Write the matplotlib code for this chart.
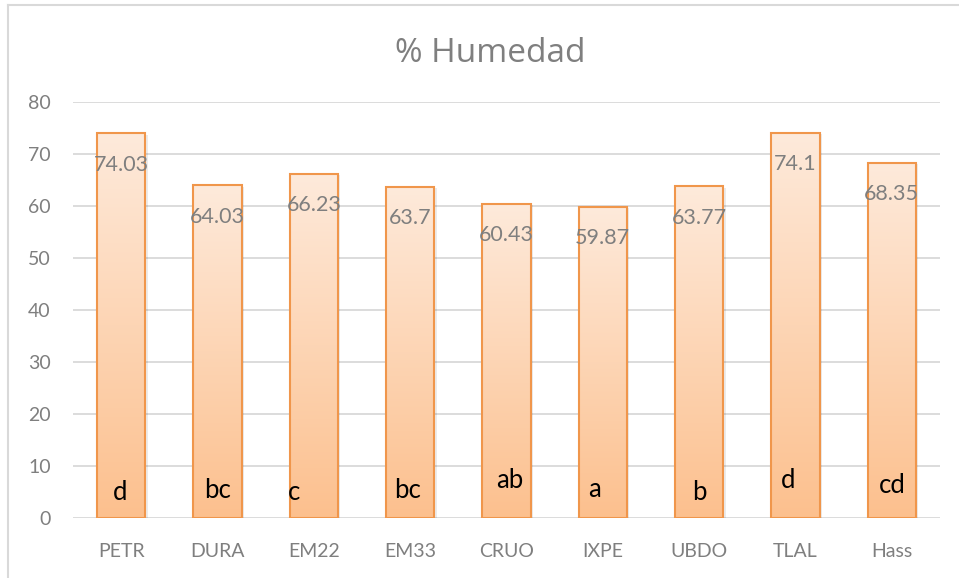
import numpy as np
import matplotlib
matplotlib.use('Agg')
import matplotlib.pyplot as plt
from matplotlib.lines import Line2D

plt.rcParams['font.family'] = ['Lato', 'DejaVu Sans']

# Datos
categorias = ['PETR', 'DURA', 'EM22', 'EM33', 'CRUO', 'IXPE', 'UBDO', 'TLAL', 'Hass']
humedad = [74.03, 64.03, 66.23, 63.7, 60.43, 59.87, 63.77, 74.1, 68.35]
letras = ['d', 'bc', 'c', 'bc', 'ab', 'a', 'b', 'd', 'cd']

# posicion manual de las letras (desplazamiento x, linea base y)
letras_dx = [-0.01, 0.0, -0.21, -0.03, 0.03, -0.09, 0.0, -0.08, 0.0]
letras_y = [3.46, 3.85, 3.46, 3.85, 5.77, 4.04, 3.46, 5.77, 4.8]

gris = '#7F7F7F'
borde = '#F0964B'
arriba = np.array([254, 234, 219]) / 255
abajo = np.array([252, 192, 142]) / 255

fig = plt.figure(figsize=(9.59, 5.78), dpi=100)
ax = fig.add_axes([73 / 959, 60 / 578, 867 / 959, 416 / 578])

x = np.arange(len(categorias))
t = np.linspace(0, 1, 256)[:, None, None]
grad = arriba * (1 - t) + abajo * t

for xi, v in zip(x, humedad):
    # sombra suave
    ax.bar(xi + 0.025, v - 0.3, width=0.5, bottom=0, color='#000000', alpha=0.08, zorder=2)
    ax.imshow(grad, extent=[xi - 0.25, xi + 0.25, 0, v], aspect='auto',
              origin='upper', zorder=3)

ax.bar(x, humedad, width=0.5, facecolor='none', edgecolor=borde, linewidth=1.5, zorder=4)

for xi, v in zip(x, humedad):
    ax.annotate(f'{v:g}', (xi, v), xytext=(0, -27), textcoords='offset points',
                ha='center', va='baseline', fontsize=15.5, color=gris, zorder=5)

for xi, l, dx, y in zip(x, letras, letras_dx, letras_y):
    ax.text(xi + dx, y, l, ha='center', va='baseline', fontsize=18.5, color='black', zorder=5)

ax.set_xlim(-0.5, len(categorias) - 0.5)
ax.set_ylim(0, 80)
ax.set_yticks(range(0, 81, 10))
ax.set_xticks(x)
ax.set_xticklabels(categorias)
ax.yaxis.grid(True, color='#D9D9D9', linewidth=1.3)
ax.set_axisbelow(True)
for s in ax.spines.values():
    s.set_visible(False)
ax.tick_params(axis='y', length=0, labelsize=14, labelcolor=gris, pad=16)
ax.tick_params(axis='x', length=0, labelsize=14, labelcolor=gris, pad=18)

fig.text(490 / 959, 1 - 62 / 578, '% Humedad', ha='center', va='baseline',
         fontsize=24, color=gris, family=['Open Sans', 'DejaVu Sans'])

# borde del area del grafico
fig.add_artist(Line2D([8 / 959, 8 / 959], [0, 1 - 5 / 578], transform=fig.transFigure,
                      color='#D9D9D9', linewidth=1.5))
fig.add_artist(Line2D([8 / 959, 1], [1 - 5 / 578, 1 - 5 / 578], transform=fig.transFigure,
                      color='#D9D9D9', linewidth=1.5))

fig.savefig('out.png', dpi=100)
